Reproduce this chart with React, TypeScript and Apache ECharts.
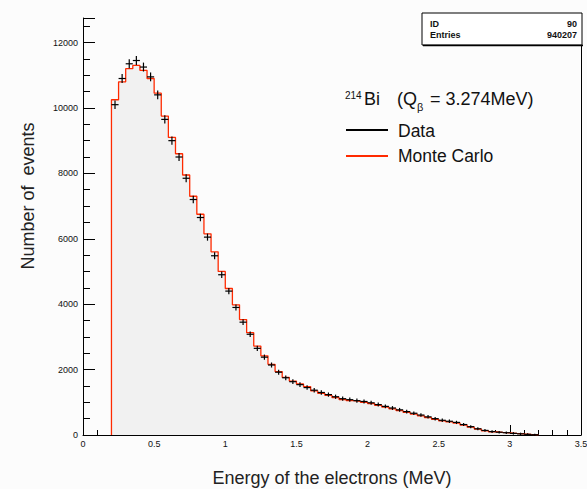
import React, { useEffect, useRef } from "react";
import * as echarts from "echarts";

// Bin edges (MeV)
const binEdges = [
  0.2, 0.25, 0.3, 0.35, 0.4, 0.45, 0.5, 0.55, 0.6, 0.65, 0.7, 0.75, 0.8, 0.85, 0.9, 0.95,
  1.0, 1.05, 1.1, 1.15, 1.2, 1.25, 1.3, 1.35, 1.4, 1.45, 1.5, 1.55, 1.6, 1.65, 1.7, 1.75,
  1.8, 1.85, 1.9, 1.95, 2.0, 2.05, 2.1, 2.15, 2.2, 2.25, 2.3, 2.35, 2.4, 2.45, 2.5, 2.55,
  2.6, 2.65, 2.7, 2.75, 2.8, 2.85, 2.9, 2.95, 3.0, 3.05, 3.1, 3.15, 3.2,
];

// Measured data (black points)
const dataCounts = [
  10100, 10900, 11350, 11450, 11250, 10950, 10400, 9650, 9000, 8500, 7850, 7200, 6650, 6050, 5480, 4900,
  4400, 3900, 3450, 3080, 2650, 2380, 2140, 1920, 1750, 1630, 1540, 1450, 1370, 1300, 1235, 1170,
  1110, 1080, 1050, 1025, 985, 930, 875, 825, 770, 715, 665, 610, 555, 500, 450, 420,
  385, 320, 255, 190, 140, 105, 85, 70, 50, 35, 20, 8,
];

// Monte Carlo (red histogram)
const mcCounts = [
  10250, 10800, 11200, 11300, 11150, 10900, 10450, 9750, 9100, 8600, 7950, 7300, 6750, 6150, 5600, 5000,
  4480, 3980, 3530, 3130, 2720, 2420, 2160, 1940, 1760, 1650, 1560, 1480, 1350, 1270, 1210, 1140,
  1080, 1050, 1030, 1000, 960, 905, 855, 800, 745, 690, 640, 585, 530, 475, 430, 400,
  365, 305, 240, 180, 130, 100, 80, 66, 48, 32, 18, 8,
];

const xTicks = [0, 0.5, 1, 1.5, 2, 2.5, 3, 3.5];
const yTicks = [0, 2000, 4000, 6000, 8000, 10000, 12000];

const statsLabels = ["ID", "Entries"];
const statsValues = ["90", "940207"];

const FONT = "'Liberation Sans', Arial, sans-serif";

export default function App() {
  const ref = useRef<HTMLDivElement>(null);

  useEffect(() => {
    document.body.style.margin = "0";
    if (!ref.current) return;
    const chart = echarts.init(ref.current, undefined, { renderer: "svg" });

    const nBins = mcCounts.length;
    const mcLine: number[][] = [[binEdges[0], 0]];
    for (let i = 0; i < nBins; i++) mcLine.push([binEdges[i], mcCounts[i]]);
    mcLine.push([binEdges[nBins], mcCounts[nBins - 1]]);
    mcLine.push([binEdges[nBins], 0]);

    const dataPts = dataCounts.map((v, i) => [binEdges[i], binEdges[i + 1], v]);

    const option: any = {
      animation: false,
      backgroundColor: "#fcfcfc",
      grid: { left: 83, right: 6, top: 18, bottom: 54, outerBoundsMode: "none", containLabel: false },
      xAxis: {
        type: "value",
        min: xTicks[0],
        max: xTicks[xTicks.length - 1],
        interval: 0.5,
        name: "Energy of the electrons (MeV)",
        nameLocation: "middle",
        nameGap: 34,
        nameTextStyle: { fontFamily: FONT, fontSize: 18, color: "#222" },
        axisLine: { show: true, onZero: false, lineStyle: { color: "#000", width: 1 } },
        axisTick: { show: true, inside: true, length: 10, lineStyle: { color: "#000" } },
        minorTick: { show: true, splitNumber: 5, length: 5, lineStyle: { color: "#000" } },
        splitLine: { show: false },
        axisLabel: {
          fontFamily: FONT,
          fontSize: 9,
          color: "#111",
          margin: 4,
          formatter: (v: number) => (xTicks.includes(v) ? String(v) : ""),
        },
      },
      yAxis: [
        {
          type: "value",
          min: 0,
          max: 12750,
          interval: 2000,
          axisLine: { show: true, lineStyle: { color: "#000", width: 1 } },
          axisTick: { show: true, inside: true, length: 12, lineStyle: { color: "#000" } },
          minorTick: { show: true, splitNumber: 4, length: 7, lineStyle: { color: "#000" } },
          splitLine: { show: false },
          axisLabel: {
            fontFamily: FONT,
            fontSize: 9,
            color: "#111",
            margin: 5,
            showMaxLabel: false,
            formatter: (v: number) => (yTicks.includes(v) ? String(v) : ""),
          },
        },
        {
          type: "value",
          position: "right",
          min: 0,
          max: 12750,
          interval: 2000,
          axisLine: { show: true, lineStyle: { color: "#000", width: 1 } },
          axisTick: { show: false },
          axisLabel: { show: false },
          splitLine: { show: false },
        },
      ],
      series: [
        {
          type: "line",
          data: mcLine,
          step: "end",
          symbol: "none",
          lineStyle: { color: "#ff2a00", width: 1.3 },
          areaStyle: { color: "#f1f1f1", opacity: 1 },
          z: 2,
        },
        {
          type: "custom",
          data: dataPts,
          encode: { x: [0, 1], y: 2 },
          z: 3,
          renderItem: (params: any, api: any) => {
            const x0 = api.value(0);
            const x1 = api.value(1);
            const v = api.value(2);
            const err = Math.sqrt(v);
            const pL = api.coord([x0, v]);
            const pR = api.coord([x1, v]);
            const xm = (x0 + x1) / 2;
            const pT = api.coord([xm, v + err]);
            const pB = api.coord([xm, v - err]);
            const style = { stroke: "#000", lineWidth: 1.2 };
            return {
              type: "group",
              children: [
                { type: "line", shape: { x1: pL[0], y1: pL[1], x2: pR[0], y2: pR[1] }, style },
                { type: "line", shape: { x1: pT[0], y1: pT[1] - 1, x2: pB[0], y2: pB[1] + 1 }, style },
              ],
            };
          },
        },
      ],
      graphic: [
        {
          type: "text",
          rotation: Math.PI / 2,
          style: {
            text: "Number of  events",
            fontFamily: FONT,
            fontSize: 18,
            fill: "#222",
            align: "center",
            verticalAlign: "middle",
          },
          x: 28,
          y: 196,
        },
        // stats box
        {
          type: "rect",
          shape: { x: 422, y: 13, width: 160, height: 32 },
          style: { fill: "#fff", stroke: "#000", lineWidth: 1 },
          z: 10,
        },
        {
          type: "line",
          shape: { x1: 423, y1: 45.5, x2: 583, y2: 45.5 },
          style: { stroke: "#000", lineWidth: 1.5 },
          z: 10,
        },
        ...statsLabels.map((t, i) => ({
          type: "text",
          x: 430,
          y: 24 + i * 11,
          z: 11,
          style: { text: t, fontFamily: FONT, fontSize: 9, fontWeight: "bold", fill: "#111", align: "left", verticalAlign: "middle" },
        })),
        ...statsValues.map((t, i) => ({
          type: "text",
          x: 577,
          y: 24 + i * 11,
          z: 11,
          style: { text: t, fontFamily: FONT, fontSize: 9, fontWeight: "bold", fill: "#111", align: "right", verticalAlign: "middle" },
        })),
        // legend header
        {
          type: "text",
          x: 345,
          y: 95,
          z: 11,
          style: { text: "214", fontFamily: FONT, fontSize: 10, fill: "#111", align: "left", verticalAlign: "middle" },
        },
        {
          type: "text",
          x: 364,
          y: 99,
          z: 11,
          style: { text: "Bi", fontFamily: FONT, fontSize: 18, fill: "#111", align: "left", verticalAlign: "middle" },
        },
        {
          type: "text",
          x: 397,
          y: 99,
          z: 11,
          style: { text: "(Q", fontFamily: FONT, fontSize: 18, fill: "#111", align: "left", verticalAlign: "middle" },
        },
        {
          type: "text",
          x: 417,
          y: 107,
          z: 11,
          style: { text: "β", fontFamily: FONT, fontSize: 11, fill: "#111", align: "left", verticalAlign: "middle" },
        },
        {
          type: "text",
          x: 430,
          y: 99,
          z: 11,
          style: { text: "= 3.274MeV)", fontFamily: FONT, fontSize: 18, fill: "#111", align: "left", verticalAlign: "middle" },
        },
        // legend entries
        {
          type: "line",
          shape: { x1: 346, y1: 130, x2: 388, y2: 130 },
          style: { stroke: "#000", lineWidth: 2 },
          z: 11,
        },
        {
          type: "text",
          x: 398,
          y: 131,
          z: 11,
          style: { text: "Data", fontFamily: FONT, fontSize: 17.5, fill: "#111", align: "left", verticalAlign: "middle" },
        },
        {
          type: "line",
          shape: { x1: 346, y1: 156, x2: 388, y2: 156 },
          style: { stroke: "#ff2a00", lineWidth: 2 },
          z: 11,
        },
        {
          type: "text",
          x: 398,
          y: 156,
          z: 11,
          style: { text: "Monte Carlo", fontFamily: FONT, fontSize: 17.5, fill: "#111", align: "left", verticalAlign: "middle" },
        },
      ],
    };

    chart.setOption(option);
    return () => chart.dispose();
  }, []);

  return (
    <div
      ref={ref}
      style={{ position: "absolute", left: 0, top: 0, width: 587, height: 489 }}
    />
  );
}
